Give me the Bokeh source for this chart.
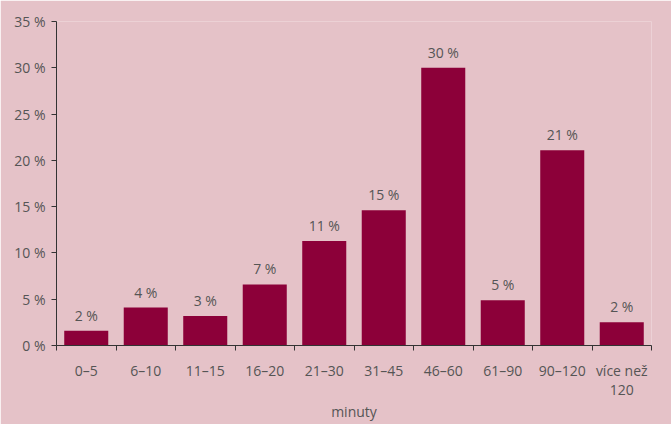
from bokeh.plotting import figure
from bokeh.models import Range1d, FixedTicker, ColumnDataSource
from bokeh.embed import file_html
from bokeh.resources import INLINE
from bokeh.core.properties import value

categories = ["0–5", "6–10", "11–15", "16–20", "21–30", "31–45", "46–60", "61–90", "90–120", "více než\n120"]
values = [1.6, 4.1, 3.2, 6.6, 11.3, 14.6, 30.0, 4.9, 21.1, 2.5]
labels = ["2 %", "4 %", "3 %", "7 %", "11 %", "15 %", "30 %", "5 %", "21 %", "2 %"]
y_ticks = [0, 5, 10, 15, 20, 25, 30, 35]

BG = "#E5C2C8"
BAR = "#8C0039"
TXT = "#555555"
FONT = "Open Sans"
FS = "14px"

n = len(categories)
centers = [i + 0.5 for i in range(n)]

p = figure(frame_width=595, frame_height=324, output_backend="svg", toolbar_location=None,
           x_range=Range1d(0, n), y_range=Range1d(0, 35),
           min_border_left=56, min_border_right=20, min_border_top=21, min_border_bottom=60)
p.background_fill_color = BG
p.border_fill_color = BG
p.outline_line_color = None
p.xgrid.visible = False
p.ygrid.visible = False

src = ColumnDataSource(dict(x=centers, top=values, lab=labels))
p.vbar(x="x", top="top", width=0.74, source=src, fill_color=BAR, line_color=None)
p.text(x="x", y="top", text="lab", source=src, y_offset=-6, text_align="center",
       text_baseline="bottom", text_font=value(FONT), text_font_size=FS, text_color=TXT)

# x axis
xa = p.xaxis[0]
xa.ticker = FixedTicker(ticks=centers, minor_ticks=list(range(n + 1)))
xa.major_label_overrides = {c: l for c, l in zip(centers, categories)}
xa.major_tick_in = 0
xa.major_tick_out = 0
xa.minor_tick_in = 0
xa.minor_tick_out = 5
xa.minor_tick_line_color = "#333333"
xa.axis_line_color = "#333333"
xa.major_label_standoff = 10
xa.major_label_text_font = FONT
xa.major_label_text_font_size = FS
xa.major_label_text_color = TXT
xa.major_label_text_line_height = 1.05
xa.axis_label = "minuty"
xa.axis_label_text_font = FONT
xa.axis_label_text_font_size = FS
xa.axis_label_text_font_style = "normal"
xa.axis_label_text_color = TXT
xa.axis_label_standoff = 0

# y axis
ya = p.yaxis[0]
ya.ticker = FixedTicker(ticks=y_ticks, minor_ticks=[])
ya.major_label_overrides = {t: f"{t} %" for t in y_ticks}
ya.major_tick_in = 0
ya.major_tick_out = 5
ya.major_tick_line_color = "#333333"
ya.axis_line_color = "#333333"
ya.major_label_standoff = 6
ya.major_label_text_font = FONT
ya.major_label_text_font_size = FS
ya.major_label_text_color = TXT

open("out.html", "w").write(file_html(p, INLINE))
